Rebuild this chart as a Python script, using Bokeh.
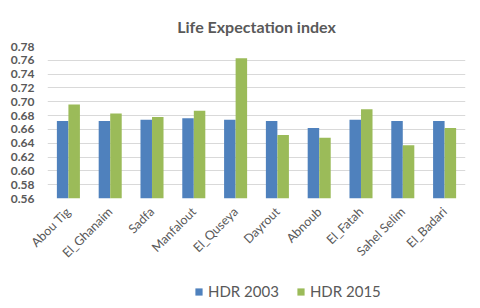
from bokeh.plotting import figure
from bokeh.layouts import column
from bokeh.models import ColumnDataSource, FixedTicker, Legend, LegendItem, NumeralTickFormatter
from bokeh.transform import dodge
from bokeh.embed import file_html
from bokeh.resources import INLINE
import math

categories = ["Abou Tig", "El_Ghanaim", "Sadfa", "Manfalout", "El_Quseya",
              "Dayrout", "Abnoub", "El_Fatah", "Sahel Selim", "El_Badari"]
hdr2003 = [0.672, 0.672, 0.674, 0.676, 0.674, 0.672, 0.662, 0.674, 0.672, 0.672]
hdr2015 = [0.696, 0.683, 0.678, 0.687, 0.763, 0.652, 0.648, 0.689, 0.637, 0.662]
y_ticks = [0.56, 0.58, 0.60, 0.62, 0.64, 0.66, 0.68, 0.70, 0.72, 0.74, 0.76, 0.78]
series_names = ["HDR 2003", "HDR 2015"]
title_text = "Life Expectation index"

FONT = "Lato"
BLUE = "#4F81BD"
GREEN = "#9BBB59"
GRAY = "#595959"

src = ColumnDataSource(dict(cat=categories, a=hdr2003, b=hdr2015))

p = figure(width=480, height=268, x_range=categories,
           y_range=(y_ticks[0], y_ticks[-1]),
           output_backend="svg", toolbar_location=None,
           min_border_left=47, min_border_right=15, min_border_top=46, min_border_bottom=70)

p.title.text = title_text
p.title.align = "center"
p.title.text_font = FONT
p.title.text_font_size = "16px"
p.title.text_font_style = "bold"
p.title.text_color = GRAY
p.title.standoff = 22

r1 = p.vbar(x=dodge("cat", -0.138, range=p.x_range), top="a", width=0.275, source=src,
            fill_color=BLUE, line_color=None)
r2 = p.vbar(x=dodge("cat", 0.138, range=p.x_range), top="b", width=0.275, source=src,
            fill_color=GREEN, line_color=None)

p.outline_line_color = None
p.xgrid.grid_line_color = None
p.ygrid.grid_line_color = "#d9d9d9"
p.ygrid.grid_line_width = 1

p.yaxis.ticker = FixedTicker(ticks=y_ticks)
p.yaxis.formatter = NumeralTickFormatter(format="0.00")
p.yaxis.axis_line_color = None
p.yaxis.major_tick_line_color = None
p.yaxis.minor_tick_line_color = None
p.yaxis.major_label_text_font = FONT
p.yaxis.major_label_text_font_size = "12px"
p.yaxis.major_label_text_font_style = "bold"
p.yaxis.major_label_text_color = GRAY
p.yaxis.major_label_standoff = 7

p.xaxis.axis_line_color = None
p.xaxis.major_tick_line_color = None
p.xaxis.major_label_text_font = FONT
p.xaxis.major_label_text_font_size = "12.5px"
p.xaxis.major_label_text_color = GRAY
p.xaxis.major_label_orientation = math.pi / 4
p.xaxis.major_label_standoff = 5

# legend strip underneath (proxy bars fall outside its range, only the legend shows)
p2 = figure(width=480, height=36, x_range=categories, y_range=(y_ticks[-1], 1.0),
            output_backend="svg", toolbar_location=None,
            x_axis_location=None, y_axis_location=None,
            min_border_left=0, min_border_right=0, min_border_top=0, min_border_bottom=0)
p2.outline_line_color = None
p2.grid.grid_line_color = None
l1 = p2.vbar(x="cat", top="a", width=0.275, source=src, fill_color=BLUE, line_color=None)
l2 = p2.vbar(x="cat", top="b", width=0.275, source=src, fill_color=GREEN, line_color=None)

legend = Legend(items=[LegendItem(label=series_names[0], renderers=[l1]),
                       LegendItem(label=series_names[1], renderers=[l2])],
                orientation="horizontal", location=(147, 4),
                label_text_font=FONT, label_text_font_size="15px", label_text_color=GRAY,
                glyph_width=9, glyph_height=9, spacing=17, border_line_color=None,
                background_fill_alpha=0, margin=0, padding=4, label_standoff=5)
p2.add_layout(legend, "center")

layout = column(p, p2, spacing=0)
open("out.html", "w").write(file_html(layout, INLINE))
